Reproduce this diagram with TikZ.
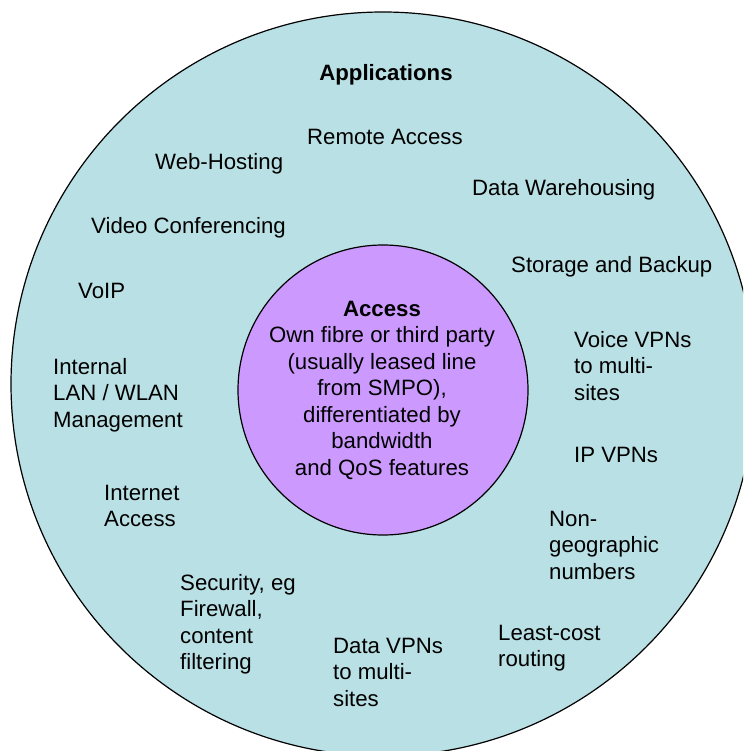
\documentclass[tikz,border=0pt]{standalone}
\usepackage{fontspec}
\setmainfont{Liberation Sans}
\definecolor{appfill}{RGB}{185,224,228}
\definecolor{accfill}{RGB}{204,153,255}
\begin{document}
\begin{tikzpicture}[x=1pt,y=-1pt,
  ring/.style={draw=black,line width=1.2pt},
  lbl/.style={inner sep=0pt,anchor=north west,align=left,font=\fontsize{22.2}{26.5}\selectfont},
  clbl/.style={inner sep=0pt,anchor=north,align=center,font=\fontsize{22.2}{26.5}\selectfont}]
\clip (0,0) rectangle (743,751);
\fill[white] (0,0) rectangle (743,751);
\node[ring,fill=appfill,circle,minimum size=744pt,inner sep=0pt] (apps) at (383,384) {};
\node[ring,fill=accfill,circle,minimum size=290pt,inner sep=0pt] (acc) at (383,390) {};
\node[clbl] (apptitle) at (386,61.5) {\strut\textbf{Applications}};
\node[clbl] (acctext) at (382,297.5) {\strut\textbf{Access}\\Own fibre or third party\\(usually leased line\\from SMPO),\\differentiated by\\bandwidth\\and QoS features};
\node[lbl] (remote) at (307,125.5) {\strut Remote Access};
\node[lbl] (web) at (155,150.5) {\strut Web-Hosting};
\node[lbl] (dw) at (472,176.5) {\strut Data Warehousing};
\node[lbl] (video) at (91,214.5) {\strut Video Conferencing};
\node[lbl] (storage) at (511,253.5) {\strut Storage and Backup};
\node[lbl] (voip) at (78,279.5) {\strut VoIP};
\node[lbl] (lan) at (53,355.5) {\strut Internal\\LAN / WLAN\\Management};
\node[lbl] (voice) at (574,328.5) {\strut Voice VPNs\\to multi-\\sites};
\node[lbl] (ipvpn) at (574,443.5) {\strut IP VPNs};
\node[lbl] (inet) at (104,481.5) {\strut Internet\\Access};
\node[lbl] (nongeo) at (549,507.5) {\strut Non-\\geographic\\numbers};
\node[lbl] (sec) at (180,571.5) {\strut Security, eg\\Firewall,\\content\\filtering};
\node[lbl] (lcr) at (498,621.5) {\strut Least-cost\\routing};
\node[lbl] (datavpn) at (333,634.5) {\strut Data VPNs\\to multi-\\sites};
\end{tikzpicture}
\end{document}
